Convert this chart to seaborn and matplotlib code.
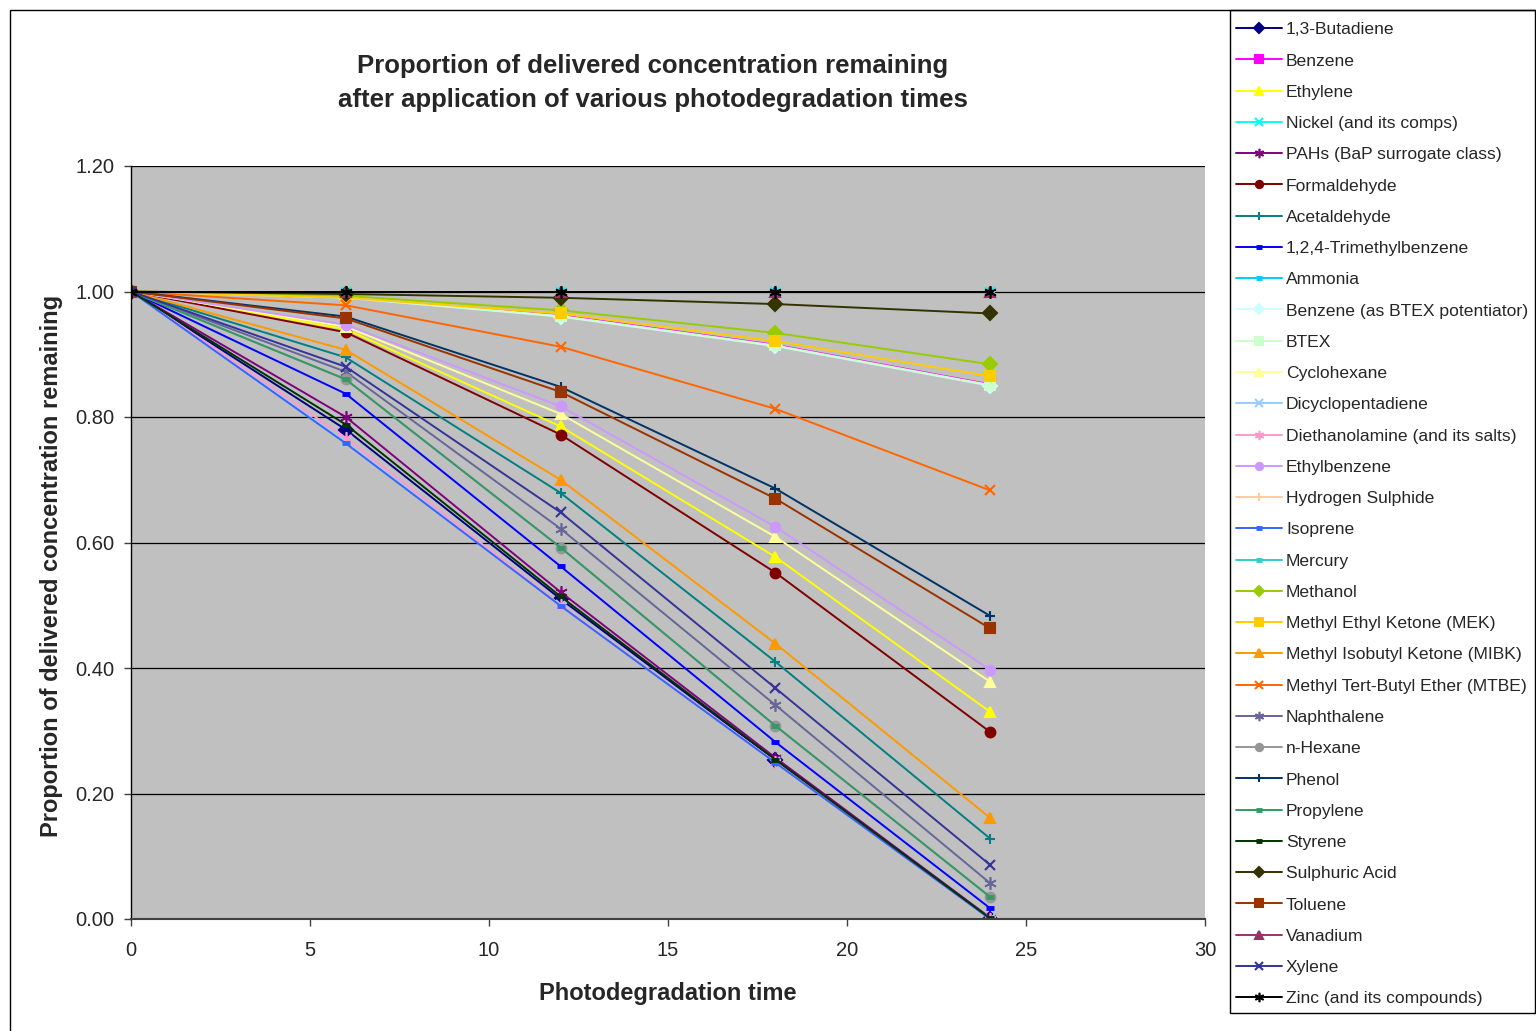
import numpy as np
import pandas as pd
import seaborn as sns
import matplotlib.pyplot as plt
from matplotlib.patches import Rectangle
from matplotlib.ticker import FormatStrFormatter

#%% data
times = [0, 6, 12, 18, 24]

compounds = ['1,3-Butadiene', 'Benzene', 'Ethylene', 'Nickel (and its comps)',
             'PAHs (BaP surrogate class)', 'Formaldehyde', 'Acetaldehyde',
             '1,2,4-Trimethylbenzene', 'Ammonia', 'Benzene (as BTEX potentiator)',
             'BTEX', 'Cyclohexane', 'Dicyclopentadiene', 'Diethanolamine (and its salts)',
             'Ethylbenzene', 'Hydrogen Sulphide', 'Isoprene', 'Mercury', 'Methanol',
             'Methyl Ethyl Ketone (MEK)', 'Methyl Isobutyl Ketone (MIBK)',
             'Methyl Tert-Butyl Ether (MTBE)', 'Naphthalene', 'n-Hexane', 'Phenol',
             'Propylene', 'Styrene', 'Sulphuric Acid', 'Toluene', 'Vanadium', 'Xylene',
             'Zinc (and its compounds)']

butadiene = [1.00, 0.780, 0.510, 0.253, 0.000]
benzene = [1.00, 0.990, 0.962, 0.915, 0.852]
ethylene = [1.00, 0.940, 0.785, 0.577, 0.330]
nickel = [1.00, 1.00, 1.00, 1.00, 1.00]
pahs = [1.00, 0.800, 0.521, 0.257, 0.002]
formaldehyde = [1.00, 0.935, 0.772, 0.552, 0.298]
acetaldehyde = [1.00, 0.895, 0.679, 0.410, 0.128]
tmb = [1.00, 0.837, 0.562, 0.282, 0.017]
ammonia = [1.00, 1.00, 1.00, 1.00, 1.00]
benzene_btex = [1.00, 0.990, 0.960, 0.913, 0.850]
btex = [1.00, 0.990, 0.961, 0.914, 0.851]
cyclohexane = [1.00, 0.944, 0.805, 0.609, 0.378]
dicyclopentadiene = [1.00, 0.760, 0.500, 0.250, 0.000]
diethanolamine = [1.00, 0.767, 0.500, 0.250, 0.000]
ethylbenzene = [1.00, 0.947, 0.817, 0.625, 0.397]
h2s = [1.00, 1.00, 1.00, 1.00, 1.00]
isoprene = [1.00, 0.758, 0.499, 0.249, 0.000]
mercury = [1.00, 1.00, 1.00, 1.00, 1.00]
methanol = [1.00, 0.993, 0.970, 0.934, 0.884]
mek = [1.00, 0.990, 0.965, 0.921, 0.865]
mibk = [1.00, 0.907, 0.700, 0.439, 0.161]
mtbe = [1.00, 0.978, 0.912, 0.813, 0.683]
naphthalene = [1.00, 0.872, 0.622, 0.341, 0.057]
hexane = [1.00, 0.860, 0.592, 0.308, 0.035]
phenol = [1.00, 0.960, 0.848, 0.686, 0.483]
propylene = [1.00, 0.860, 0.592, 0.308, 0.035]
styrene = [1.00, 0.788, 0.514, 0.254, 0.001]
sulphuric = [1.00, 0.996, 0.990, 0.980, 0.965]
toluene = [1.00, 0.957, 0.840, 0.670, 0.463]
vanadium = [1.00, 1.00, 1.00, 1.00, 1.00]
xylene = [1.00, 0.880, 0.648, 0.368, 0.086]
zinc = [1.00, 1.00, 1.00, 1.00, 1.00]

series = [butadiene, benzene, ethylene, nickel, pahs, formaldehyde, acetaldehyde,
          tmb, ammonia, benzene_btex, btex, cyclohexane, dicyclopentadiene,
          diethanolamine, ethylbenzene, h2s, isoprene, mercury, methanol, mek, mibk,
          mtbe, naphthalene, hexane, phenol, propylene, styrene, sulphuric, toluene,
          vanadium, xylene, zinc]

#%% excel default series styling
colours = ['#000080', '#FF00FF', '#FFFF00', '#00FFFF', '#800080', '#800000', '#008080',
           '#0000FF', '#00CCFF', '#CCFFFF', '#CCFFCC', '#FFFF99', '#99CCFF', '#FF99CC',
           '#CC99FF', '#FFCC99', '#3366FF', '#33CCCC', '#99CC00', '#FFCC00', '#FF9900',
           '#FF6600', '#666699', '#969696', '#003366', '#339966', '#003300', '#333300',
           '#993300', '#993366', '#333399', '#000000']
star = (6, 2, 0)
marker_cycle = ['D', 's', '^', 'x', star, 'o', '+', '_', '_']
markers = [marker_cycle[i % 9] for i in range(len(compounds))]

sns.set_style('white')
plt.rcParams['font.family'] = ['Liberation Sans', 'DejaVu Sans']

fig = plt.figure(figsize=(15.36, 10.31), dpi=100)
ax = fig.add_axes([131/1536, 1-919/1031, (1205-131)/1536, (919-166)/1031])
ax.set_facecolor('#C0C0C0')

for name, vals, col, mk in zip(compounds, series, colours, markers):
    mew = 1.5
    ms = 7
    if mk == '_':
        mew = 3.5
        ms = 6
    if mk == star:
        ms = 9
        mew = 1.2
    sns.lineplot(x=times, y=vals, ax=ax, color=col, marker=mk, markersize=ms,
                 markeredgecolor=col, markerfacecolor=col, markeredgewidth=mew,
                 linewidth=1.4, label=name)

ax.set_xlim(0, 30)
ax.set_ylim(0, 1.2)
ax.set_xticks(np.arange(0, 31, 5))
ax.set_yticks(np.arange(0, 1.21, 0.2))
ax.yaxis.set_major_formatter(FormatStrFormatter('%.2f'))
ax.grid(axis='y', color='black', linewidth=0.9)
ax.grid(axis='x', visible=False)
ax.tick_params(axis='both', labelsize=14.5, direction='out', length=5, width=1,
               color='#404040', bottom=True, left=True)
ax.tick_params(axis='x', pad=11)
ax.tick_params(axis='y', pad=7)
for s in ['top', 'right']:
    ax.spines[s].set_visible(False)
ax.spines['left'].set_color('black')
ax.spines['bottom'].set_color('#404040')
ax.spines['left'].set_linewidth(1)
ax.spines['bottom'].set_linewidth(1.5)

ax.set_xlabel('Photodegradation time', fontsize=17, fontweight='bold', labelpad=16)
ax.set_ylabel('Proportion of delivered concentration remaining', fontsize=17,
              fontweight='bold')
ax.yaxis.set_label_coords(-0.0635, 0.4685)

fig.text(653/1536, 1-83/1031, 'Proportion of delivered concentration remaining\n'
         'after application of various photodegradation times',
         ha='center', va='center', fontsize=18.5, fontweight='bold', linespacing=1.55)

leg = ax.legend(loc='upper left', bbox_to_anchor=(1236/1536, 1-22/1031),
                bbox_transform=fig.transFigure, fontsize=12.6, frameon=False,
                handlelength=2.6, labelspacing=0.915, borderaxespad=0, borderpad=0,
                handletextpad=0.25, markerscale=0.75)

# legend box and outer chart frame
fig.patches.append(Rectangle((1230/1536, 1-1013/1031), 305/1536, 1003/1031,
                             transform=fig.transFigure, fill=False,
                             edgecolor='black', linewidth=1))
fig.patches.append(Rectangle((10/1536, -0.05), 1.1, 1-10/1031+0.05,
                             transform=fig.transFigure, fill=False,
                             edgecolor='black', linewidth=1))

fig.savefig('out.png', dpi=100)
